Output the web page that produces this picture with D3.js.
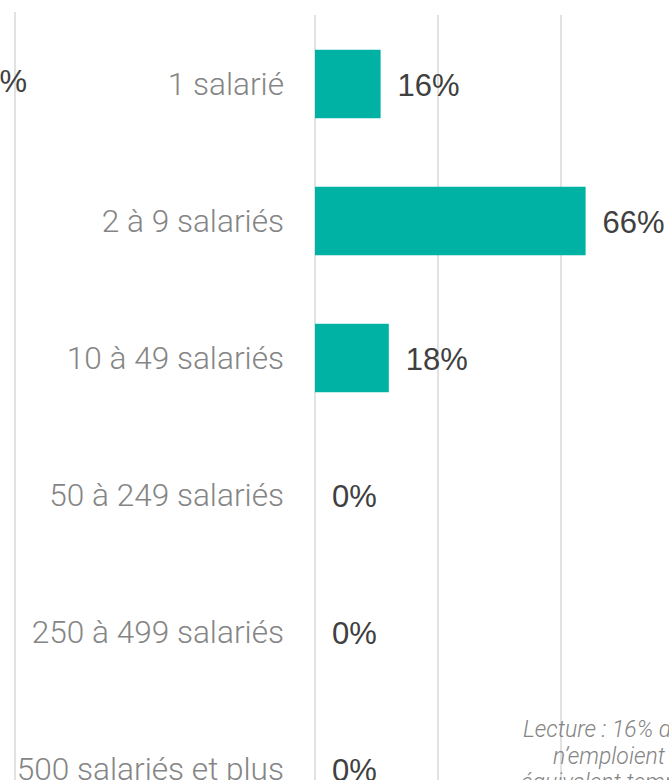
<!DOCTYPE html>
<html>
<head>
<meta charset="utf-8">
<script src="https://cdn.jsdelivr.net/npm/d3@7"></script>
<style>
  html, body { margin: 0; padding: 0; background: #fff; overflow: hidden; }
</style>
</head>
<body>
<div id="container"></div>
<script>
const canvasWidth = 669;
const canvasHeight = 780;

// data
let categories = ['1 salarié', '2 à 9 salariés', '10 à 49 salariés', '50 à 249 salariés', '250 à 499 salariés', '500 salariés et plus'];
let values = [0.16, 0.66, 0.18, 0, 0, 0];
let gridTicks = [0, 0.3, 0.6, 0.9];
let noteLines = ['Lecture : 16% des associations', 'n\u2019emploient qu\u2019un salarié', 'équivalent temps plein'];

let rows = categories.map(function(c, i){ return {cat: c, value: values[i]}; });

let barColor = '#00b2a3';
let labelFont = '"Roboto Light", Roboto, "Noto Sans", sans-serif';
let valueFont = '"Liberation Sans", Arial, sans-serif';

let svg = d3.select('#container')
  .append('svg')
  .attr('width', canvasWidth)
  .attr('height', canvasHeight);

let x = d3.scaleLinear().domain([0, 0.9]).range([315, 684]);
let y = d3.scaleBand().domain(categories).range([15.5, 15.5 + 6*137]).paddingInner(0.5).paddingOuter(0.25);

// gridline of the neighbouring panel (cut off on the left)
svg.append('line')
  .attr('x1', 15).attr('x2', 15)
  .attr('y1', 12).attr('y2', canvasHeight)
  .style('stroke', '#d9d9d9')
  .style('stroke-width', 1.5);

// the neighbouring panel's value label, mostly cut off
svg.append('text')
  .attr('x', 27)
  .attr('y', 92)
  .attr('text-anchor', 'end')
  .style('font-family', valueFont)
  .style('font-size', '31px')
  .style('fill', '#404040')
  .text('42%');

// gridlines
svg.selectAll('.grid').data(gridTicks).enter()
  .append('line')
  .attr('class', 'grid')
  .attr('x1', function(d){ return x(d); })
  .attr('x2', function(d){ return x(d); })
  .attr('y1', 15)
  .attr('y2', canvasHeight)
  .style('stroke', '#d9d9d9')
  .style('stroke-width', 1.5);

// bars
svg.selectAll('.bar').data(rows).enter()
  .append('rect')
  .attr('class', 'bar')
  .attr('x', x(0))
  .attr('y', function(d){ return y(d.cat); })
  .attr('width', function(d){ return x(d.value) - x(0); })
  .attr('height', y.bandwidth())
  .style('fill', barColor);

// category labels
svg.selectAll('.cat').data(rows).enter()
  .append('text')
  .attr('class', 'cat')
  .attr('x', 284)
  .attr('y', function(d){ return y(d.cat) + y.bandwidth()/2 + 11; })
  .attr('text-anchor', 'end')
  .style('font-family', labelFont)
  .style('font-weight', 300)
  .style('font-size', '31.6px')
  .style('fill', '#858585')
  .text(function(d){ return d.cat; });

// value labels
svg.selectAll('.val').data(rows).enter()
  .append('text')
  .attr('class', 'val')
  .attr('x', function(d){ return x(d.value) + 17; })
  .attr('y', function(d){ return y(d.cat) + y.bandwidth()/2 + 12; })
  .style('font-family', valueFont)
  .style('font-size', '31px')
  .style('fill', '#404040')
  .text(function(d){ return d3.format('.0%')(d.value); });

// note
let noteX = [523, 553, 521];
svg.selectAll('.note').data(noteLines).enter()
  .append('text')
  .attr('class', 'note')
  .attr('x', function(d, i){ return noteX[i]; })
  .attr('y', function(d, i){ return 737 + i*26.5; })
  .style('font-family', labelFont)
  .style('font-weight', 300)
  .style('font-style', 'italic')
  .style('font-size', '23px')
  .style('fill', '#858585')
  .text(function(d){ return d; });
</script>
</body>
</html>
